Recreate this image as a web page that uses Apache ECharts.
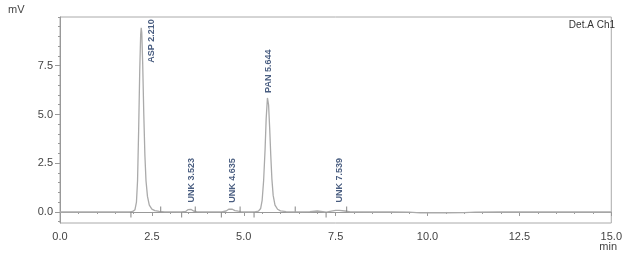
<!DOCTYPE html>
<html><head><meta charset="utf-8">
<script src="https://cdn.jsdelivr.net/npm/echarts@6/dist/echarts.min.js"></script>
<style>html,body{margin:0;padding:0;background:#fff}#c{width:625px;height:262px}</style>
</head><body><div id="c"></div>
<script>
// Chromatogram trace: [time (min), signal (mV)]
const trace = [
[0,0],[0.5,0],[1.0,0],[1.5,0],[1.9,0],[1.98,0.03],[2.04,0.12],[2.08,0.5],[2.11,1.6],[2.14,4.2],[2.17,7.3],[2.195,9.1],[2.21,9.45],[2.225,9.2],[2.25,7.6],[2.28,5.0],[2.31,2.9],[2.34,1.6],[2.38,0.8],[2.43,0.35],[2.5,0.15],[2.58,0.07],[2.7,0.03],[2.85,0.01],[3.0,0.01],[3.3,0.0],[3.42,0.03],[3.48,0.12],[3.523,0.18],[3.57,0.13],[3.63,0.05],[3.72,0.02],[3.9,0.01],[4.2,0.01],[4.4,0.01],[4.52,0.05],[4.59,0.14],[4.635,0.17],[4.69,0.14],[4.76,0.07],[4.85,0.04],[4.92,0.02],[5.1,0.0],[5.3,0.0],[5.4,0.04],[5.46,0.18],[5.5,0.6],[5.54,1.6],[5.58,3.2],[5.61,4.8],[5.644,5.85],[5.675,5.5],[5.705,4.3],[5.735,2.9],[5.765,1.7],[5.8,0.85],[5.85,0.35],[5.92,0.14],[6.0,0.06],[6.15,0.02],[6.4,0.01],[6.8,0.02],[7.0,0.05],[7.15,0.02],[7.25,-0.01],[7.35,0.03],[7.5,0.08],[7.6,0.08],[7.75,0.05],[7.9,0.01],[8.5,0.0],[9.0,0.0],[9.5,-0.01],[9.8,-0.05],[10.1,-0.03],[10.5,-0.04],[11.0,-0.03],[11.3,-0.01],[12,0],[13,0],[14,0],[15,0]
];
// Peak annotations
const peakNames = ['ASP', 'UNK', 'UNK', 'PAN', 'UNK'];
const peakTimes = ['2.210', '3.523', '4.635', '5.644', '7.539'];
const peakHeights = [9.45, 0.18, 0.17, 5.85, 0.08];
// Integration start / end marks (min)
const startMarks = [1.93, 3.31, 4.39, 5.28, 7.24];
const endMarks = [2.74, 3.68, 4.90, 6.40, 7.80];
// Axis ticks
const xTicks = [0, 2.5, 5, 7.5, 10, 12.5, 15];
const yTicks = [0, 2.5, 5, 7.5];
const yMinor = [-0.5, 0, 0.5, 1, 1.5, 2, 2.5, 3, 3.5, 4, 4.5, 5, 5.5, 6, 6.5, 7, 7.5, 8, 8.5, 9, 9.5, 10];
const yRange = [-0.565, 10];
const xRange = [0, 15];

const chart = echarts.init(document.getElementById('c'), null, {renderer: 'canvas'});
const labelFont = {fontFamily: 'Liberation Sans, Arial, sans-serif', fontSize: 11, color: '#444'};
// offsets are in the rotated label frame: [upwards, rightwards]
const labelOffsets = [[-35, 10], [6, 2], [6, 2], [5, 1], [8, 2]];
chart.setOption({
  animation: false,
  grid: {left: 60, right: 8, top: 17, bottom: 39, show: true, borderColor: '#aaa', borderWidth: 1},
  xAxis: [{
    type: 'value', min: xRange[0], max: xRange[1], interval: 2.5,
    axisLine: {show: true, lineStyle: {color: '#999'}},
    axisTick: {show: true, length: 4, lineStyle: {color: '#999'}},
    minorTick: {show: true, splitNumber: 5, length: 2, lineStyle: {color: '#999'}},
    splitLine: {show: false},
    axisLabel: Object.assign({margin: 8, formatter: v => v.toFixed(1)}, labelFont)
  }],
  yAxis: [{
    type: 'value', min: yRange[0], max: yRange[1],
    axisLine: {show: true, lineStyle: {color: '#999'}},
    axisTick: {show: true, length: 5, customValues: yTicks, lineStyle: {color: '#999'}},
    splitLine: {show: false},
    axisLabel: Object.assign({margin: 7, customValues: yTicks, formatter: v => v.toFixed(1)}, labelFont)
  }, {
    type: 'value', min: yRange[0], max: yRange[1], position: 'left',
    axisLine: {show: false},
    axisTick: {show: true, length: 2, customValues: yMinor, lineStyle: {color: '#999'}},
    splitLine: {show: false},
    axisLabel: {show: false, customValues: yMinor}
  }],
  series: [{
    type: 'line', data: trace, showSymbol: false, symbol: 'none',
    lineStyle: {color: '#aaa', width: 1.3}, z: 3
  }, {
    type: 'scatter', symbol: 'rect', symbolSize: [1, 5], symbolOffset: [0, 3],
    itemStyle: {color: '#666'}, data: startMarks.map(t => [t, 0]), z: 4
  }, {
    type: 'scatter', symbol: 'rect', symbolSize: [1, 5], symbolOffset: [0, -3],
    itemStyle: {color: '#666'}, data: endMarks.map(t => [t, 0]), z: 4
  }, {
    type: 'scatter', symbolSize: 0, z: 5,
    data: peakNames.map((n, i) => ({
      value: [parseFloat(peakTimes[i]), peakHeights[i]],
      label: {offset: labelOffsets[i]}
    })),
    label: {
      show: true, position: 'inside', rotate: 90, align: 'left', verticalAlign: 'middle',
      fontFamily: 'Liberation Sans, Arial, sans-serif', fontSize: 9, fontWeight: 'bold', color: '#1c3560',
      formatter: p => peakNames[p.dataIndex] + ' ' + peakTimes[p.dataIndex]
    }
  }],
  graphic: [
    {type: 'text', left: 8, top: 4, style: {text: 'mV', font: '11px Liberation Sans, Arial, sans-serif', fill: '#444'}},
    {type: 'text', right: 10, top: 20, style: {text: 'Det.A Ch1', font: '10px Liberation Sans, Arial, sans-serif', fill: '#333'}},
    {type: 'text', right: 8, top: 241, style: {text: 'min', font: '11px Liberation Sans, Arial, sans-serif', fill: '#444'}}
  ]
});
</script></body></html>
